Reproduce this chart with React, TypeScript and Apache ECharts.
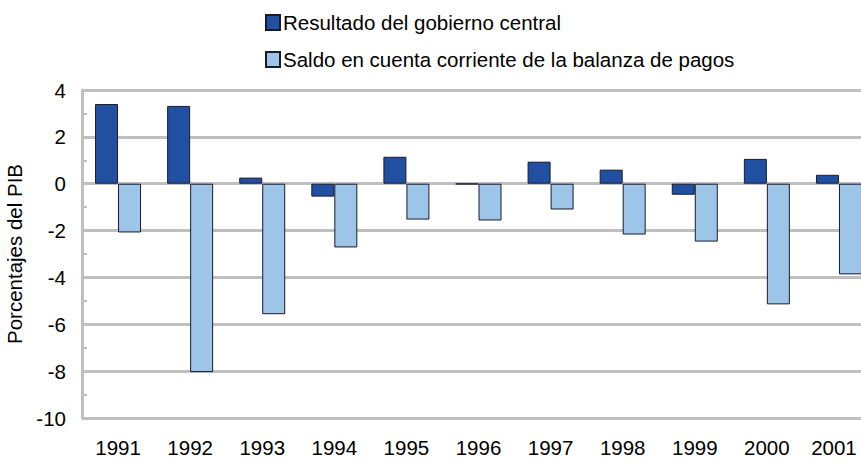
import React, { useEffect, useRef } from "react";
import * as echarts from "echarts";

const years = ["1991", "1992", "1993", "1994", "1995", "1996", "1997", "1998", "1999", "2000", "2001"];
const resultadoGobierno = [3.4, 3.32, 0.26, -0.55, 1.15, -0.02, 0.94, 0.6, -0.47, 1.06, 0.38];
const saldoCuentaCorriente = [-2.08, -8.04, -5.57, -2.72, -1.53, -1.57, -1.1, -2.17, -2.47, -5.15, -3.87];
const seriesNames = ["Resultado del gobierno central", "Saldo en cuenta corriente de la balanza de pagos"];
const yAxisName = "Porcentajes del PIB";

const FONT = "'Liberation Sans', Arial, sans-serif";
const FS = 20.5;

export default function App() {
  const ref = useRef<HTMLDivElement>(null);
  useEffect(() => {
    if (!ref.current) return;
    const chart = echarts.init(ref.current, undefined, { renderer: "svg" });
    const lastIdx = years.length - 1;
    chart.setOption({
      animation: false,
      backgroundColor: "#ffffff",
      textStyle: { fontFamily: FONT },
      legend: {
        orient: "vertical",
        left: 260,
        top: 7,
        itemGap: 16,
        itemWidth: 14,
        itemHeight: 15,
        icon: "rect",
        textStyle: { fontSize: FS, color: "#000", fontFamily: FONT, padding: [0, 0, 0, -2] },
        data: seriesNames,
      },
      grid: { left: 82, top: 90, width: 793, height: 328, containLabel: false, outerBoundsMode: "none" },
      xAxis: {
        type: "category",
        data: years,
        axisLine: { show: false },
        axisTick: { show: false },
        axisLabel: {
          interval: 0,
          hideOverlap: false,
          fontSize: FS,
          color: "#000",
          margin: 19,
          fontFamily: FONT,
          formatter: (v: string, i: number) => (i === lastIdx ? `{t|${v}}{pad| }` : `{t|${v}}`),
          rich: {
            t: { fontSize: FS, color: "#000", fontFamily: FONT },
            pad: { fontSize: FS, width: 10 },
          },
        },
      },
      yAxis: {
        type: "value",
        min: -10,
        max: 4,
        interval: 2,
        name: yAxisName,
        nameLocation: "middle",
        nameGap: 52,
        nameRotate: 90,
        nameTextStyle: { fontSize: FS, color: "#000", fontFamily: FONT },
        axisLine: { show: true, lineStyle: { color: "#bfbfbf", width: 3 } },
        axisTick: { show: true, inside: true, length: 5, lineStyle: { color: "#bfbfbf", width: 2 } },
        minorTick: { show: true, splitNumber: 2, length: 5, lineStyle: { color: "#bfbfbf", width: 2 } },
        splitLine: { show: true, lineStyle: { color: "#bfbfbf", width: 3 } },
        axisLabel: { fontSize: FS, color: "#000", margin: 16, fontFamily: FONT },
      },
      series: [
        {
          name: seriesNames[0],
          type: "bar",
          data: resultadoGobierno,
          barWidth: 23,
          barGap: "0%",
          itemStyle: { color: "#2150A2", borderColor: "#1a1a2e", borderWidth: 1 },
        },
        {
          name: seriesNames[1],
          type: "bar",
          data: saldoCuentaCorriente,
          barWidth: 23,
          barGap: "0%",
          itemStyle: { color: "#9DC5E8", borderColor: "#1a1a2e", borderWidth: 1 },
        },
      ],
    });
    return () => chart.dispose();
  }, []);
  return (
    <div style={{ position: "fixed", left: 0, top: 0, width: 861, height: 462, overflow: "hidden", background: "#fff" }}>
      <div ref={ref} style={{ position: "absolute", left: 0, top: 0, width: 900, height: 462 }} />
    </div>
  );
}
